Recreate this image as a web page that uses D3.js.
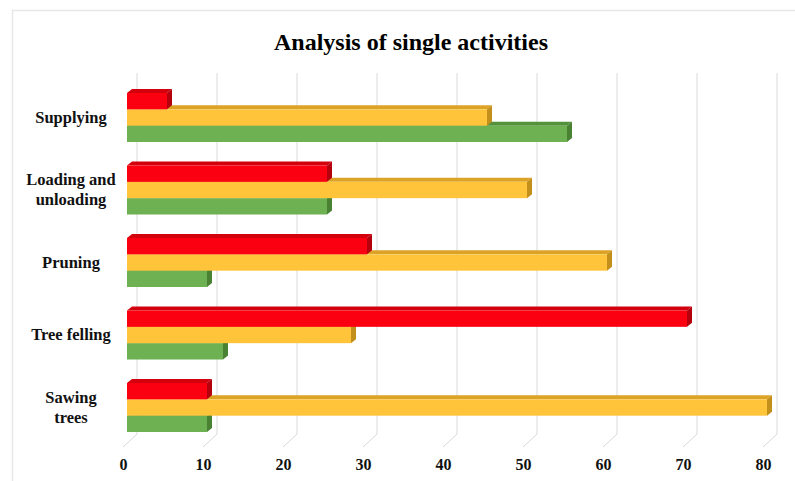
<!DOCTYPE html>
<html><head><meta charset="utf-8">
<script src="https://cdn.jsdelivr.net/npm/d3@7"></script>
<style>body{margin:0;background:#fff}svg{display:block}</style>
</head><body>
<svg id="c" width="795" height="481"></svg>
<script>
const categories = ["Supplying", "Loading and unloading", "Pruning", "Tree felling", "Sawing trees"];
const categoryLines = [["Supplying"], ["Loading and", "unloading"], ["Pruning"], ["Tree felling"], ["Sawing", "trees"]];
const seriesNames = ["Red", "Yellow", "Green"];
const redValues = [5, 25, 30, 70, 10];
const yellowValues = [45, 50, 60, 28, 80];
const greenValues = [55, 25, 10, 12, 10];
const tickValues = [0, 10, 20, 30, 40, 50, 60, 70, 80];
const title = "Analysis of single activities";

const colors = {
  Red: {front: "#fb0011", top: "#d3000d", side: "#b5000e"},
  Yellow: {front: "#ffc43a", top: "#dca326", side: "#c4901c"},
  Green: {front: "#6db152", top: "#54913b", side: "#4a8233"}
};
const seriesValues = {Red: redValues, Yellow: yellowValues, Green: greenValues};

const svg = d3.select("#c");
const serif = "'Liberation Serif','Times New Roman',serif";

// border
svg.append("path").attr("d", "M12.5,481 V10.5 H795").attr("fill", "none").attr("stroke", "#e8e8e8").attr("stroke-width", 1.5);

const x = d3.scaleLinear().domain([0, 80]).range([127, 767]);
const y = d3.scaleBand().domain(categories).range([81.25, 443.75]).paddingInner(0.324).paddingOuter(0.162);
const ys = d3.scaleBand().domain(seriesNames).range([0, y.bandwidth()]);
const dx = 5, dy = 4;

// gridlines (back wall + floor)
const gridTop = 73, gridBottom = 434, floorX = -14, floorY = 13, backOff = 10;
svg.append("g").selectAll("path").data(tickValues).join("path")
  .attr("d", v => {
    const xb = x(v) + backOff;
    return `M${xb},${gridTop} V${gridBottom} l${floorX},${floorY}`;
  })
  .attr("fill", "none").attr("stroke", "#d9d9d9").attr("stroke-width", 1);

// bars
const bars = svg.append("g");
categories.forEach((cat, i) => {
  const g = bars.append("g");
  ["Green", "Yellow", "Red"].forEach(s => {
    const v = seriesValues[s][i];
    const x0 = x(0), x1 = x(v);
    const y0 = y(cat) + ys(s), h = ys.bandwidth();
    const c = colors[s];
    g.append("path").attr("d", `M${x0},${y0} L${x0 + dx},${y0 - dy} L${x1 + dx},${y0 - dy} L${x1},${y0} Z`).attr("fill", c.top);
    g.append("path").attr("d", `M${x1},${y0} L${x1 + dx},${y0 - dy} L${x1 + dx},${y0 + h - dy} L${x1},${y0 + h} Z`).attr("fill", c.side);
    g.append("rect").attr("x", x0).attr("y", y0).attr("width", x1 - x0).attr("height", h).attr("fill", c.front);
  });
});

// category labels
const lab = svg.append("g").attr("font-family", serif).attr("font-weight", "bold").attr("font-size", 16.5).attr("fill", "#111").attr("text-anchor", "middle");
categories.forEach((cat, i) => {
  const lines = categoryLines[i];
  const cy = y(cat) + y.bandwidth() / 2;
  const lh = 20;
  lines.forEach((t, k) => {
    lab.append("text").attr("x", 71).attr("y", cy + (k - (lines.length - 1) / 2) * lh + 5).text(t);
  });
});

// axis tick labels
const ax = d3.axisBottom(x).tickValues(tickValues).tickSize(0).tickFormat(d3.format("d"));
const axg = svg.append("g").attr("transform", "translate(-4,456)").call(ax);
axg.select(".domain").remove();
axg.selectAll("text").attr("font-family", serif).attr("font-weight", "bold").attr("font-size", 16).attr("fill", "#111");

// title
svg.append("text").attr("x", 411).attr("y", 50).attr("text-anchor", "middle")
  .attr("font-family", serif).attr("font-weight", "bold").attr("font-size", 24).attr("fill", "#000").text(title);
</script>
</body></html>
